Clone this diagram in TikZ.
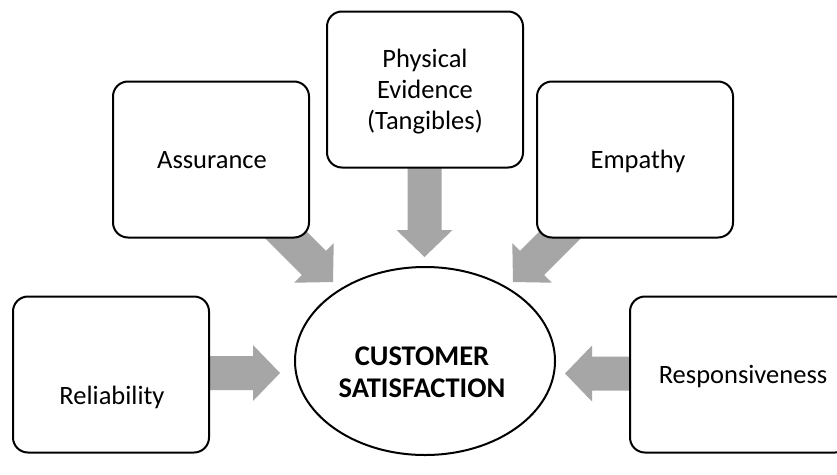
\documentclass[tikz,border=0pt]{standalone}
\usepackage{fontspec}
\setmainfont{Carlito}
\usetikzlibrary{calc,shapes.geometric}
\definecolor{agray}{HTML}{A6A6A6}
\tikzset{
  boxnode/.style={draw=black, line width=2pt, rounded corners=15pt, fill=white,
    minimum width=196pt, minimum height=156pt, inner sep=0pt},
  txt/.style={font=\fontsize{26.5pt}{31pt}\selectfont, align=center, inner sep=0pt, anchor=base},
  bigtxt/.style={font=\fontsize{28.5pt}{32pt}\selectfont\bfseries, align=center, inner sep=0pt, anchor=base},
  ellnode/.style={draw=black, line width=2pt, ellipse, fill=white,
    minimum width=260pt, minimum height=188pt, inner sep=0pt}
}
\newcommand\blockarrow[2]{%
  \coordinate (hb) at ($(#2)!27pt!(#1)$);
  \fill[agray] ($(#1)!17pt!90:(#2)$) -- ($(hb)!17pt!90:(#2)$) -- ($(hb)!28pt!90:(#2)$)
    -- (#2) -- ($(hb)!28pt!-90:(#2)$) -- ($(hb)!17pt!-90:(#2)$) -- ($(#1)!17pt!-90:(#2)$) -- cycle;
}
\begin{document}
\begin{tikzpicture}[x=1pt,y=-1pt]
\useasboundingbox (0,0) rectangle (837,474);
\clip (0,0) rectangle (837,474);
\fill[white] (0,0) rectangle (837,474);
% arrow end points
\coordinate (relA) at (190,373);   \coordinate (relB) at (280,373);
\coordinate (resA) at (650,373.5); \coordinate (resB) at (565,373.5);
\coordinate (phyA) at (424.5,150); \coordinate (phyB) at (424.5,257);
\coordinate (assA) at (251,200);   \coordinate (assB) at (333,282);
\coordinate (empA) at (595,200);   \coordinate (empB) at (513,282);
\blockarrow{relA}{relB}
\blockarrow{resA}{resB}
\blockarrow{phyA}{phyB}
\blockarrow{assA}{assB}
\blockarrow{empA}{empB}
% boxes
\node[boxnode] (rel) at (111,374.5) {};
\node[boxnode] (ass) at (211,159.5) {};
\node[boxnode] (phy) at (425,89.5) {};
\node[boxnode] (emp) at (635,159.5) {};
\node[boxnode, minimum width=220pt] (res) at (740,374.5) {};
\node[ellnode] (cs) at (425,361) {};
% texts
\node[txt] (relt) at (112,404) {Reliability};
\node[txt] (asst) at (212,168) {Assurance};
\node[txt] (phyt) at (425,129) {Physical\\Evidence\\(Tangibles)};
\node[txt] (empt) at (638,168) {Empathy};
\node[txt] (rest) at (743,383) {Responsiveness};
\node[bigtxt] (cst) at (422,397) {CUSTOMER\\SATISFACTION};
\end{tikzpicture}
\end{document}
